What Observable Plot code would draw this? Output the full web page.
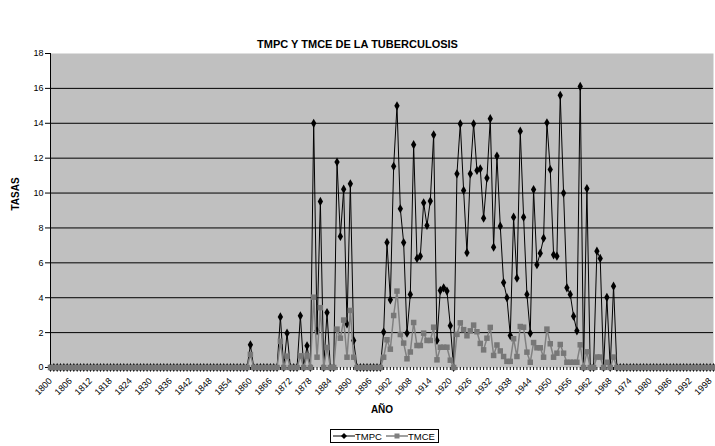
<!DOCTYPE html>
<html><head><meta charset="utf-8">
<script src="https://cdn.jsdelivr.net/npm/d3@7"></script>
<script src="https://cdn.jsdelivr.net/npm/@observablehq/plot@0.6"></script>
<style>
body{margin:0;background:#fff;font-family:"Liberation Sans",Arial,sans-serif;}
#wrap{position:relative;width:715px;height:446px;overflow:hidden;}
#title{position:absolute;top:38px;left:0;width:715px;text-align:center;font-weight:bold;font-size:11px;line-height:13px;color:#000;}
#chart{position:absolute;top:49px;left:0;}
#legend{position:absolute;left:330px;top:429px;height:12px;border:1px solid #000;display:flex;align-items:center;font-size:9.5px;padding:0 3px 0 2px;background:#fff;}
#legend span{margin-right:4px;}
#legend svg{display:block;}
</style>
</head><body>
<div id="wrap">
  <div id="title">TMPC Y TMCE DE LA TUBERCULOSIS</div>
  <div id="chart"></div>
  <div id="legend">
    <svg width="22" height="10"><line x1="0" y1="5" x2="22" y2="5" stroke="#000" stroke-width="1"/><path d="M11,2 L14,5 L11,8 L8,5 Z" fill="#000"/></svg><span>TMPC</span>
    <svg width="22" height="10"><line x1="0" y1="5" x2="22" y2="5" stroke="#808080" stroke-width="1.5"/><rect x="8.5" y="2.5" width="5" height="5" fill="#808080"/></svg><span style="margin-right:0">TMCE</span>
  </div>
</div>
<script>
// Year series start (one value per year, 1800-1999)
const startYear = 1800;

// TMPC values, one row per decade (1800s ... 1990s)
const TMPC = [
  0,0,0,0,0,0,0,0,0,0,
  0,0,0,0,0,0,0,0,0,0,
  0,0,0,0,0,0,0,0,0,0,
  0,0,0,0,0,0,0,0,0,0,
  0,0,0,0,0,0,0,0,0,0,
  0,0,0,0,0,0,0,0,0,0,
  1.3,0,0,0,0,0,0,0,0,2.9,
  0,1.97,0,0,0,2.96,0,1.24,0,14.0,
  2.1,9.52,0,3.15,0,0,11.78,7.51,10.22,2.5,
  10.53,1.55,0,0,0,0,0,0,0,0,
  2.03,7.17,3.88,11.53,15.0,9.1,7.16,1.97,4.19,12.77,
  6.25,6.38,9.44,8.14,9.54,13.34,1.55,4.42,4.57,4.38,
  2.4,0,11.1,13.97,10.15,6.58,11.1,13.97,11.3,11.39,
  8.56,10.86,14.26,6.9,12.12,8.1,4.87,4.0,1.83,8.62,
  5.12,13.55,8.62,4.19,1.97,10.2,5.89,6.55,7.41,14.03,
  11.35,6.46,6.38,15.6,10.0,4.57,4.19,2.94,2.1,16.11,
  0,10.26,0,0,6.67,6.25,0,4.02,0,4.66,
  0,0,0,0,0,0,0,0,0,0,
  0,0,0,0,0,0,0,0,0,0,
  0,0,0,0,0,0,0,0,0,0
];

// TMCE values, one row per decade (1800s ... 1990s)
const TMCE = [
  0,0,0,0,0,0,0,0,0,0,
  0,0,0,0,0,0,0,0,0,0,
  0,0,0,0,0,0,0,0,0,0,
  0,0,0,0,0,0,0,0,0,0,
  0,0,0,0,0,0,0,0,0,0,
  0,0,0,0,0,0,0,0,0,0,
  0.75,0,0,0,0,0,0,0,0,1.5,
  0,0.65,0,0,0,0.67,0,0.67,0,4.03,
  0.59,3.43,0,1.15,0,0,2.2,1.68,2.72,0.59,
  3.27,0.59,0,0,0,0,0,0,0,0,
  0.59,1.59,1.05,2.98,4.38,1.89,1.4,0.5,0.89,2.58,
  1.26,1.26,1.97,1.55,1.55,2.31,0.44,1.16,1.16,1.16,
  0.42,0,1.9,2.56,2.17,1.82,2.1,2.43,2.05,1.38,
  1.01,1.68,2.3,0.69,1.29,0.95,0.63,0.35,0.35,1.65,
  0.63,2.35,2.31,0.88,0.3,1.43,1.13,1.13,0.59,2.2,
  1.36,0.59,0.82,1.32,0.82,0.3,0.3,0.3,0.3,1.3,
  0,0.9,0,0,0.6,0.6,0,0.3,0,0.6,
  0,0,0,0,0,0,0,0,0,0,
  0,0,0,0,0,0,0,0,0,0,
  0,0,0,0,0,0,0,0,0,0
];

// Tick labels
const xTickLabels = [1800,1806,1812,1818,1824,1830,1836,1842,1848,1854,1860,1866,1872,1878,1884,1890,1896,1902,1908,1914,1920,1926,1932,1938,1944,1950,1956,1962,1968,1974,1980,1986,1992,1998];
const yTicks = [0,2,4,6,8,10,12,14,16,18];
const gridValues = [2,4,6,8,10,12,14,16];

const years = TMPC.map((_, i) => startYear + i);
const rows = years.map((yr, i) => ({year: yr, tmpc: TMPC[i], tmce: TMCE[i]}));

const chart = Plot.plot({
  width: 715,
  height: 372,
  marginLeft: 50,
  marginRight: 2,
  marginTop: 4,
  marginBottom: 54,
  style: {fontFamily: '"Liberation Sans", Arial, sans-serif', fontSize: "9px", background: "transparent", color: "#000"},
  x: {domain: [years[0], years[years.length - 1]], axis: null},
  y: {domain: [0, 18], axis: null},
  marks: [
    Plot.frame({fill: "#c0c0c0", stroke: null}),
    Plot.ruleY(gridValues, {stroke: "#000", strokeWidth: 1}),
    Plot.axisY({ticks: yTicks, tickSize: 5, tickPadding: 2, fontSize: 9, tickFormat: d => String(d), stroke: "#000", label: null}),
    Plot.axisX({ticks: years, tickSize: 3, tickFormat: () => "", stroke: "#000", label: null}),
    Plot.axisX({ticks: xTickLabels, tickSize: 0, tickPadding: 12, tickRotate: -45, fontSize: 9, tickFormat: d => String(d), label: null}),
    Plot.frame({anchor: "left", stroke: "#000"}),
    Plot.line(rows, {x: "year", y: "tmpc", stroke: "#000", strokeWidth: 1}),
    Plot.dot(rows, {x: "year", y: "tmpc", symbol: "diamond", r: 2.8, fill: "#000", stroke: null}),
    Plot.line(rows, {x: "year", y: "tmce", stroke: "#808080", strokeWidth: 1.5}),
    Plot.dot(rows, {x: "year", y: "tmce", symbol: "square", r: 3.1, fill: "#777777", stroke: null}),
    Plot.text(["AÑO"], {frameAnchor: "bottom", dy: 45, fontWeight: "bold", fontSize: 10}),
    Plot.text(["TASAS"], {frameAnchor: "left", dx: -35, rotate: -90, fontWeight: "bold", fontSize: 10})
  ]
});
document.getElementById("chart").appendChild(chart);
</script>
</body></html>
